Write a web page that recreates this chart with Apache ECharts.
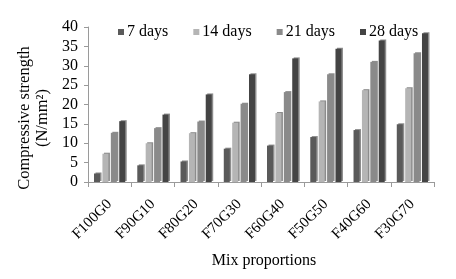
<!DOCTYPE html>
<html><head><meta charset="utf-8">
<script src="https://cdn.jsdelivr.net/npm/echarts@6/dist/echarts.min.js"></script>
<style>html,body{margin:0;padding:0;background:#fff}#c{width:456px;height:279px}</style>
</head><body><div id="c"></div>
<script>
const categories = ['F100G0','F90G10','F80G20','F70G30','F60G40','F50G50','F40G60','F30G70'];
const seriesNames = ['7 days','14 days','21 days','28 days'];
const days7  = [2.2, 4.3, 5.3, 8.6, 9.4, 11.6, 13.4, 14.9];
const days14 = [7.3, 10.0, 12.6, 15.3, 17.8, 20.8, 23.7, 24.2];
const days21 = [12.7, 13.9, 15.6, 20.2, 23.2, 27.8, 31.0, 33.2];
const days28 = [15.7, 17.4, 22.6, 27.8, 31.9, 34.4, 36.5, 38.4];
const yTicks = [0,5,10,15,20,25,30,35,40];
const yTitleLines = ['Compressive strength','(N/mm²)'];
const colors = ['#5a5a5a','#b5b5b5','#8a8a8a','#444444'];
const values = [days7, days14, days21, days28];
const font = 'Liberation Serif';
const chart = echarts.init(document.getElementById('c'), null, {renderer:'canvas'});
chart.setOption({
  animation:false,
  textStyle:{fontFamily:font},
  legend:{
    data:seriesNames, top:19, left:113, itemWidth:6, itemHeight:6, itemGap:25,
    icon:'rect',
    textStyle:{fontFamily:font, fontSize:16, color:'#000', padding:[0,0,0,-2]}
  },
  grid:{left:88, right:22, top:27, bottom:97, containLabel:false},
  graphic: yTitleLines.map((t,i)=>({
    type:'text', x:25+i*18, y:118, rotation:Math.PI/2,
    style:{text:t, font:'16.5px "Liberation Serif"', fill:'#000', align:'center', verticalAlign:'middle'}
  })),
  xAxis:{
    type:'category', data:categories,
    axisLine:{lineStyle:{color:'#9a9a9a', width:1}},
    axisTick:{show:true, length:5, lineStyle:{color:'#9a9a9a'}},
    axisLabel:{rotate:45, margin:20, fontFamily:font, fontSize:15, color:'#000'},
    name:'Mix proportions', nameLocation:'middle', nameGap:71,
    nameTextStyle:{fontFamily:font, fontSize:16, color:'#000', padding:[0,0,0,6]}
  },
  yAxis:{
    type:'value', min:0, max:40, interval:5,
    axisLine:{show:true, lineStyle:{color:'#9a9a9a'}},
    axisTick:{show:true, length:4, lineStyle:{color:'#9a9a9a'}},
    splitLine:{show:false},
    axisLabel:{fontFamily:font, fontSize:16, color:'#000', margin:10,
      formatter:v=>yTicks.includes(v)?String(v):''}
  },
  series: seriesNames.map((n,i)=>({
    name:n, type:'bar', data:values[i], barWidth:6, barGap:'40%',
    itemStyle:{color:colors[i],
      shadowColor:'rgba(0,0,0,0.45)', shadowOffsetX:1.5, shadowOffsetY:-1, shadowBlur:0}
  }))
});
</script></body></html>
